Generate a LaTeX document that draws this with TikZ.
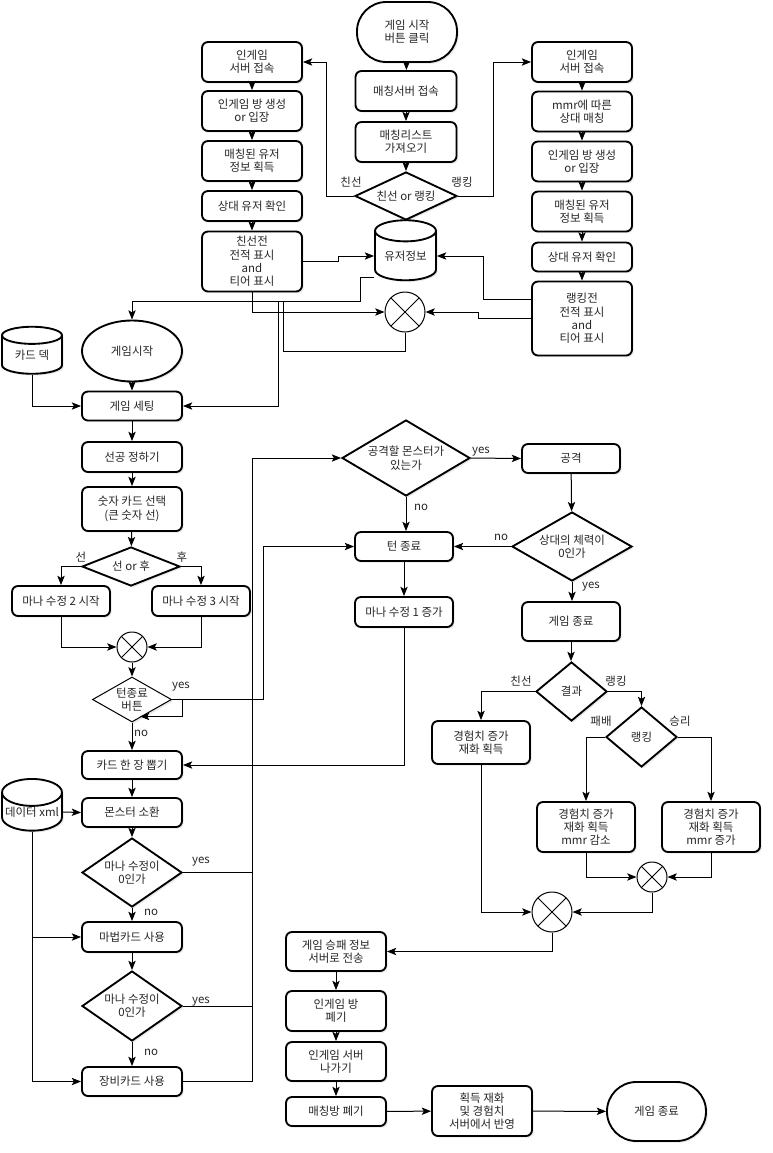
\documentclass[tikz,border=0pt]{standalone}
\usepackage{fontspec}
\setmainfont{Noto Sans CJK KR}
\usetikzlibrary{shapes.geometric,arrows.meta,shadows}
\newdimen\pxu \pxu=0.75pt
\newcommand\zw[1]{\makebox[0pt]{#1}}
\tikzset{
  txt/.style={font=\fontsize{8.6}{10}\selectfont, align=center, text=black!85},
  base/.style={txt, inner sep=0pt, fill=white, draw=black, line width=1.4pt,
    drop shadow={opacity=0.18, shadow xshift=1.3pt, shadow yshift=-1.3pt}},
  proc/.style={base, rectangle, rounded corners=4.5pt, minimum width=100\pxu, minimum height=40\pxu},
  term/.style={base, rectangle, rounded corners=22pt, minimum width=100\pxu, minimum height=60\pxu},
  dia/.style={base, diamond, minimum width=100\pxu, minimum height=70\pxu},
  db/.style={base, cylinder, shape border rotate=90, aspect=0.5, minimum width=60\pxu, minimum height=60\pxu},
  xc/.style={circle, draw=black, line width=0.75pt, fill=white, minimum size=#1, inner sep=0pt,
    path picture={\draw[line width=0.75pt] (path picture bounding box.north west) -- (path picture bounding box.south east)
      (path picture bounding box.north east) -- (path picture bounding box.south west);}},
  lab/.style={txt, inner sep=0pt},
  arr/.style={line width=0.75pt, -{Stealth[length=7pt,width=5.5pt,inset=1.6pt]}},
  ln/.style={line width=0.75pt},
}
\begin{document}
\begin{tikzpicture}[x=0.75pt,y=-0.75pt]
\useasboundingbox (0,0) rectangle (773,1153);

% top
\node[term] (s0) at (407,32) {게임 시작\\버튼 클릭};
\node[proc, minimum width=101\pxu] (m1) at (406,91) {매칭서버 접속};
\node[proc, minimum width=101\pxu] (m2) at (406,142) {매칭리스트\\가져오기};
\node[dia, minimum width=102\pxu, minimum height=48\pxu] (d0) at (406,196) {\zw{친선 or 랭킹}};
\node[lab] (ld0a) at (351,182) {친선};
\node[lab] (ld0b) at (462,182) {랭킹};

% left column
\node[proc] (L1) at (252,62) {인게임\\서버 접속};
\node[proc] (L2) at (252,111) {인게임 방 생성\\or 입장};
\node[proc] (L3) at (252,161) {매칭된 유저\\정보 획득};
\node[proc, minimum height=30\pxu] (L4) at (252,206) {상대 유저 확인};
\node[proc, minimum height=60\pxu] (L5) at (252,261.5) {친선전\\전적 표시\\and\\티어 표시};

% right column
\node[proc] (R1) at (582,62) {인게임\\서버 접속};
\node[proc] (R2) at (582,111.5) {mmr에 따른\\상대 매칭};
\node[proc] (R3) at (582,161.5) {인게임 방 생성\\or 입장};
\node[proc] (R4) at (582,211.5) {매칭된 유저\\정보 획득};
\node[proc, minimum height=29\pxu] (R5) at (582,257) {상대 유저 확인};
\node[proc, minimum height=74\pxu] (R6) at (582,318.5) {랭킹전\\전적 표시\\and\\티어 표시};

\node[db, minimum width=61\pxu] (DB) at (405.5,256) {유저정보};
\node[xc=40\pxu] (X1) at (405,312) {};

% left lower
\node[db, minimum height=47\pxu] (CD) at (32,355) {카드 덱};
\node[base, ellipse, minimum width=100\pxu, minimum height=61\pxu] (E0) at (132,351) {게임시작};
\node[proc, minimum height=29\pxu] (G1) at (132,406) {게임 세팅};
\node[proc, minimum height=30\pxu] (G2) at (132,457) {선공 정하기};
\node[proc, minimum height=44\pxu] (G3) at (132,509) {숫자 카드 선택\\(큰 숫자 선)};
\node[dia, minimum width=98\pxu, minimum height=39\pxu] (D1) at (131,566.5) {\zw{선 or 후}};
\node[lab] (lD1a) at (81,557) {선};
\node[lab] (lD1b) at (182,557) {후};
\node[proc, minimum width=98\pxu, minimum height=30\pxu] (M2) at (61,601) {마나 수정 2 시작};
\node[proc, minimum width=98\pxu, minimum height=30\pxu] (M3) at (201,601) {마나 수정 3 시작};
\node[xc=30\pxu] (X2) at (132,647) {};
\node[dia, line width=0.75pt, minimum width=79\pxu, minimum height=45\pxu] (D2) at (132,699.5) {\zw{턴종료}\\\zw{버튼}};
\node[lab] (lD2a) at (181,687) {yes};
\node[lab] (lD2b) at (141,733) {no};
\node[proc, minimum height=28\pxu] (C1) at (132,765) {카드 한 장 뽑기};
\node[proc, minimum height=29\pxu] (C2) at (132,812.5) {몬스터 소환};
\node[db, minimum height=38\pxu] (XML) at (32,812) {데이터 xml};
\node[dia, minimum height=69\pxu] (D3) at (132,872.5) {\zw{마나 수정이}\\\zw{0인가}};
\node[lab] (lD3a) at (201,862) {yes};
\node[lab] (lD3b) at (151,912) {no};
\node[proc, minimum height=30\pxu] (C3) at (132,937) {마법카드 사용};
\node[dia, minimum height=70\pxu] (D4) at (132,1006) {\zw{마나 수정이}\\\zw{0인가}};
\node[lab] (lD4a) at (201,1002) {yes};
\node[lab] (lD4b) at (151,1052) {no};
\node[proc, minimum height=29\pxu] (C4) at (132,1081.5) {장비카드 사용};
\coordinate (vj) at (252,458);

% middle
\node[dia, minimum width=128\pxu, minimum height=76\pxu] (A1) at (406,458) {\zw{공격할 몬스터가}\\\zw{있는가}};
\node[lab] (lA1a) at (481,452) {yes};
\node[lab] (lA1b) at (421,507) {no};
\node[proc, minimum width=98\pxu, minimum height=29\pxu] (AT) at (571,458.5) {공격};
\node[proc, minimum width=98\pxu, minimum height=29\pxu] (T1) at (404,546.5) {턴 종료};
\node[proc, minimum width=98\pxu, minimum height=30\pxu] (M1) at (404,612) {마나 수정 1 증가};
\node[dia, minimum width=120\pxu, minimum height=69\pxu] (D5) at (572,546.5) {\zw{상대의 체력이}\\\zw{0인가}};
\node[lab] (lD5a) at (501,537) {no};
\node[lab] (lD5b) at (591,587) {yes};
\node[proc, minimum width=98\pxu, minimum height=39\pxu] (GE) at (571,621.5) {게임 종료};
\node[dia, minimum width=71\pxu, minimum height=59\pxu] (D6) at (571.5,691.5) {\zw{결과}};
\node[lab] (lD6a) at (521,681) {친선};
\node[lab] (lD6b) at (616,681) {랭킹};
\node[dia, minimum width=71\pxu, minimum height=60\pxu] (D7) at (641.5,737) {\zw{랭킹}};
\node[lab] (lD7a) at (601,721) {패배};
\node[lab] (lD7b) at (680,721) {승리};
\node[proc, minimum width=98\pxu, minimum height=43\pxu] (B1) at (481,742.5) {경험치 증가\\재화 획득};
\node[proc, minimum width=98\pxu, minimum height=50\pxu] (B2) at (586,827) {경험치 증가\\재화 획득\\mmr 감소};
\node[proc, minimum width=98\pxu, minimum height=50\pxu] (B3) at (711,827) {경험치 증가\\재화 획득\\mmr 증가};
\node[xc=30\pxu] (X3) at (652,877) {};
\node[xc=40\pxu] (X4) at (552,912) {};

% bottom
\node[proc, minimum height=39\pxu] (F1) at (336,951.5) {게임 승패 정보\\서버로 전송};
\node[proc, minimum height=40\pxu] (F2) at (336,1011) {인게임 방\\폐기};
\node[proc, minimum height=39\pxu] (F3) at (336,1061.5) {인게임 서버\\나가기};
\node[proc, minimum height=29\pxu] (F4) at (336,1111.5) {매칭방 폐기};
\node[proc, minimum height=50\pxu] (F5) at (482,1111) {획득 재화\\및 경험치\\서버에서 반영};
\node[term, minimum width=99\pxu, minimum height=59\pxu] (END) at (656.5,1111.5) {게임 종료};

% ---- connectors ----
\draw[arr] (s0) -- (m1);
\draw[arr] (m1) -- (m2);
\draw[arr] (m2) -- (d0);
\draw[arr] (d0.west) -- ++(-28,0) |- (L1.east);
\draw[arr] (d0.east) -- ++(36,0) |- (R1.west);
\draw[arr] (L1) -- (L2);
\draw[arr] (L2) -- (L3);
\draw[arr] (L3) -- (L4);
\draw[arr] (L4) -- (L5);
\draw[arr] (R1) -- (R2);
\draw[arr] (R2) -- (R3);
\draw[arr] (R3) -- (R4);
\draw[arr] (R4) -- (R5);
\draw[arr] (R5) -- (R6);
\draw[arr] (L5.east) -- ++(36,0) |- (DB.west);
\draw[arr] ([yshift=19\pxu]R6.west) -- ++(-48,0) |- (DB.east);
\draw[arr] (R6.west) -- ++(-53,0) |- (X1.east);
\draw[arr] (L5.south) |- (X1.west);
\draw[arr] ([yshift=-21\pxu]DB.west) -- ++(-14,0) -- ++(0,24) -| (E0.north);
\draw[arr] (X1.south) -- ++(0,19) -- ++(-122,0) -- ++(0,-50) -- ++(-5,0) |- (G1.east);
\draw[arr] (CD.south) |- (G1.west);
\draw[arr] (E0) -- (G1);
\draw[arr] (G1) -- (G2);
\draw[arr] (G2) -- (G3);
\draw[arr] (G3) -- (D1);
\draw[arr] (D1.west) -| (M2.north);
\draw[arr] (D1.east) -| (M3.north);
\draw[arr] (M2.south) |- (X2.west);
\draw[arr] (M3.south) |- (X2.east);
\draw[arr] (X2) -- (D2);
\draw[arr] (D2.east) -- ++(91,0) |- (T1.west);
\draw[arr] (D2.east) -- ++(10,0) -- ++(0,17) -- ++(-42,0);
\draw[arr] (D2) -- (C1);
\draw[arr] (C1) -- (C2);
\draw[arr] (XML.east) -- (C2.west);
\draw[arr] (C2) -- (D3);
\draw[arr] (D3) -- (C3);
\draw[arr] (C3) -- (D4);
\draw[arr] (D4) -- (C4);
\draw[arr] (XML.south) |- (C3.west);
\draw[arr] (XML.south) |- (C4.west);
\draw[arr] (C4.east) -- (C4.east -| vj) |- (A1.west);
\draw[ln] (D3.east) -- (D3.east -| vj);
\draw[ln] (D4.east) -- (D4.east -| vj);
\draw[arr] (A1.east) -- (AT.west);
\draw[arr] (A1.south) -- (A1.south |- T1.north);
\draw[arr] (T1) -- (M1);
\draw[arr] (M1.south) |- (C1.east);
\draw[arr] (AT) -- (D5);
\draw[arr] (D5.west) -- (T1.east);
\draw[arr] (D5) -- (D5.south |- GE.north);
\draw[arr] (GE) -- (GE.south |- D6.north);
\draw[arr] (D6.west) -| (B1.north);
\draw[arr] (D6.east) -| (D7.north);
\draw[arr] (D7.west) -| (B2.north);
\draw[arr] (D7.east) -| (B3.north);
\draw[arr] (B2.south) |- (X3.west);
\draw[arr] (B3.south) |- (X3.east);
\draw[arr] (B1.south) |- (X4.west);
\draw[arr] (X3.south) |- (X4.east);
\draw[arr] (X4.south) |- (F1.east);
\draw[arr] (F1) -- (F2);
\draw[arr] (F2) -- (F3);
\draw[arr] (F3) -- (F4);
\draw[arr] (F4) -- (F5);
\draw[arr] (F5) -- (END);
\end{tikzpicture}
\end{document}
